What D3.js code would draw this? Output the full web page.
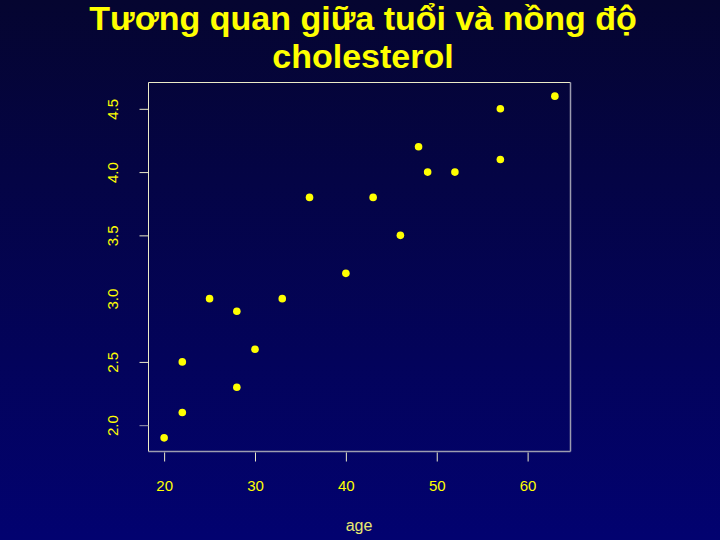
<!DOCTYPE html>
<html>
<head>
<meta charset="utf-8">
<script src="https://cdn.jsdelivr.net/npm/d3@7"></script>
<style>
  html, body { margin: 0; padding: 0; background: #02024a; }
  svg { display: block; }
</style>
</head>
<body>
<div id="chart"></div>
<script>
// data
var ages = [20, 22, 22, 25, 28, 28, 30, 33, 36, 40, 43, 46, 48, 49, 52, 57, 57, 63];
var chols = [1.9, 2.1, 2.5, 3.0, 2.9, 2.3, 2.6, 3.0, 3.8, 3.2, 3.8, 3.5, 4.2, 4.0, 4.0, 4.5, 4.1, 4.6];
var xTicks = [20, 30, 40, 50, 60];
var yTicks = [2.0, 2.5, 3.0, 3.5, 4.0, 4.5];
var titleLines = ["Tương quan giữa tuổi và nồng độ", "cholesterol"];

var width = 720, height = 540;
var plot = { left: 148.5, right: 570.5, top: 82.5, bottom: 451.5 };
var yellow = "#ffff00";

var svg = d3.select("#chart").append("svg")
    .attr("width", width)
    .attr("height", height);

// background gradient, dark at top, blue at bottom
var grad = svg.append("defs").append("linearGradient")
    .attr("id", "bg").attr("x1", 0).attr("y1", 0).attr("x2", 0).attr("y2", 1);
grad.append("stop").attr("offset", "0%").attr("stop-color", "#050530");
grad.append("stop").attr("offset", "100%").attr("stop-color", "#020270");
svg.append("rect").attr("width", width).attr("height", height).attr("fill", "url(#bg)");

// R style 4% padding on the range
var xr = d3.extent(ages), yr = d3.extent(chols);
var xpad = (xr[1] - xr[0]) * 0.04, ypad = (yr[1] - yr[0]) * 0.04;
var x = d3.scaleLinear().domain([xr[0] - xpad, xr[1] + xpad]).range([plot.left, plot.right]);
var y = d3.scaleLinear().domain([yr[0] - ypad, yr[1] + ypad]).range([plot.bottom, plot.top]);

// title
svg.append("g").selectAll("text")
    .data(titleLines)
    .enter().append("text")
    .attr("x", 363)
    .attr("y", function (d, i) { return 30 + i * 38; })
    .attr("text-anchor", "middle")
    .style("font", "bold 34px 'Liberation Sans', Arial, sans-serif")
    .attr("fill", yellow)
    .text(function (d) { return d; });

// box: light top/left, grey bottom/right
var light = "#ecebc8", grey = "#9c9cb0";
svg.append("line").attr("x1", plot.left).attr("x2", plot.right).attr("y1", plot.top).attr("y2", plot.top).attr("stroke", light);
svg.append("line").attr("x1", plot.left).attr("x2", plot.left).attr("y1", plot.top).attr("y2", plot.bottom).attr("stroke", light);
svg.append("line").attr("x1", plot.left).attr("x2", plot.right).attr("y1", plot.bottom).attr("y2", plot.bottom).attr("stroke", grey).attr("stroke-width", 1.5);
svg.append("line").attr("x1", plot.right).attr("x2", plot.right).attr("y1", plot.top).attr("y2", plot.bottom).attr("stroke", grey).attr("stroke-width", 1.5);

// x axis
var xAxis = svg.append("g")
    .attr("transform", "translate(0," + (plot.bottom + 1) + ")")
    .call(d3.axisBottom(x).tickValues(xTicks).tickSize(9).tickPadding(19).tickFormat(d3.format("d")));
xAxis.select(".domain").remove();
xAxis.selectAll(".tick line").attr("stroke", light);
xAxis.selectAll(".tick text")
    .attr("fill", yellow)
    .style("font", "15px 'Liberation Sans', Arial, sans-serif");

// y axis, labels rotated like R's default las=0
var yAxis = svg.append("g")
    .attr("transform", "translate(" + plot.left + ",0)")
    .call(d3.axisLeft(y).tickValues(yTicks).tickSize(9).tickFormat(d3.format(".1f")));
yAxis.select(".domain").remove();
yAxis.selectAll(".tick line")
    .attr("stroke", function (d) { return d === 2.0 ? grey : light; })
    .attr("stroke-opacity", function (d) { return d === 3.0 ? 0 : 1; });
yAxis.selectAll(".tick text")
    .attr("fill", yellow)
    .attr("x", null).attr("dy", null)
    .attr("text-anchor", "middle")
    .attr("transform", "translate(-31,0) rotate(-90)")
    .attr("y", 0)
    .style("font", "15px 'Liberation Sans', Arial, sans-serif");

// axis titles
svg.append("text")
    .attr("x", 359)
    .attr("y", 531)
    .attr("text-anchor", "middle")
    .attr("fill", "#e8e870")
    .style("font", "16px 'Liberation Sans', Arial, sans-serif")
    .text("age");

// y title is mostly cut off on the slide
svg.append("clipPath").attr("id", "ycut")
    .append("rect").attr("x", 60).attr("y", 200).attr("width", 16).attr("height", 100);
svg.append("text")
    .attr("clip-path", "url(#ycut)")
    .attr("transform", "translate(80,250) rotate(-90)")
    .attr("text-anchor", "middle")
    .attr("fill", "#d8d860")
    .style("font", "16px 'Liberation Sans', Arial, sans-serif")
    .text("chol");

// points
svg.append("g").selectAll("circle")
    .data(ages)
    .enter().append("circle")
    .attr("cx", function (d) { return x(d); })
    .attr("cy", function (d, i) { return y(chols[i]); })
    .attr("r", 3.8)
    .attr("fill", yellow);
</script>
</body>
</html>
